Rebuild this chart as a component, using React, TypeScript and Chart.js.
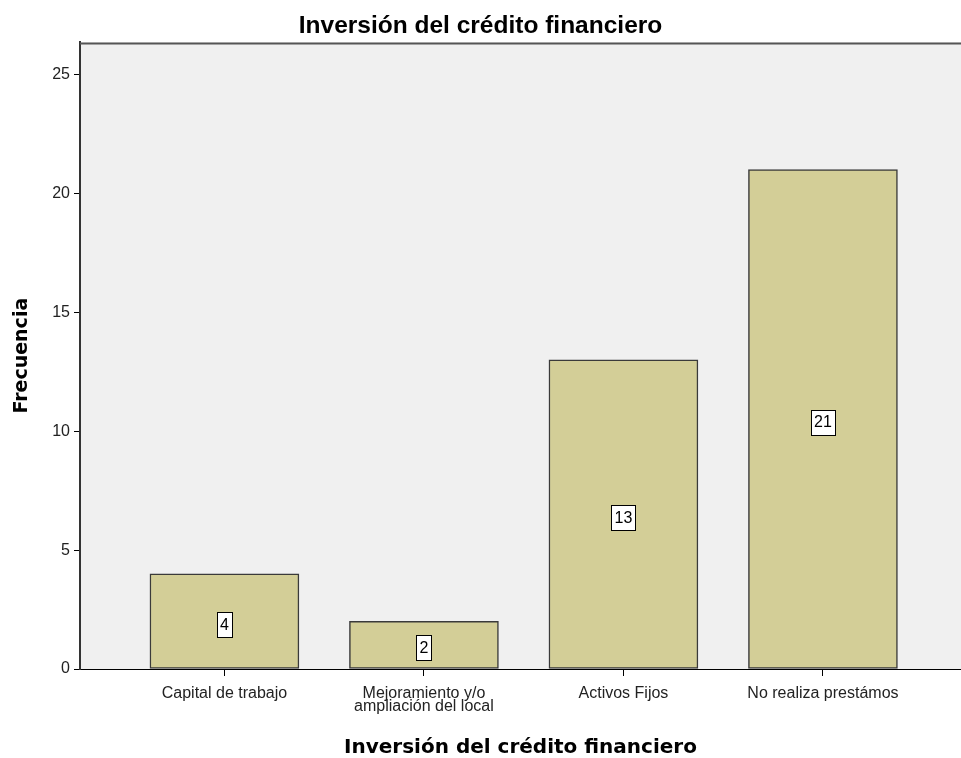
import React, { useEffect, useRef } from "react";
import { Chart, registerables } from "chart.js";

Chart.register(...registerables);

const categories: (string | string[])[] = [
  "Capital de trabajo",
  ["Mejoramiento y/o", "ampliación del local"],
  "Activos Fijos",
  "No realiza prestámos",
];
const frequencies = [4, 2, 13, 21];
const yTicks = [0, 5, 10, 15, 20, 25];
const chartTitle = "Inversión del crédito financiero";
const xTitle = "Inversión del crédito financiero";
const yTitle = "Frecuencia";

const plotBg = {
  id: "plotBg",
  beforeDraw(chart: any) {
    const { ctx, chartArea } = chart;
    ctx.save();
    ctx.fillStyle = "#F0F0F0";
    ctx.fillRect(chartArea.left, chartArea.top, chartArea.right - chartArea.left, chartArea.bottom - chartArea.top);
    ctx.restore();
  },
  afterDraw(chart: any) {
    const { ctx, chartArea } = chart;
    ctx.save();
    ctx.strokeStyle = "#555555";
    ctx.lineWidth = 2;
    ctx.beginPath();
    ctx.moveTo(chartArea.left, chartArea.top + 1);
    ctx.lineTo(chartArea.right, chartArea.top + 1);
    ctx.stroke();
    ctx.restore();
  },
};

const boxLabels = {
  id: "boxLabels",
  afterDatasetsDraw(chart: any) {
    const { ctx } = chart;
    const meta = chart.getDatasetMeta(0);
    ctx.save();
    ctx.font = "16px 'Liberation Sans', Arial, sans-serif";
    ctx.textAlign = "center";
    ctx.textBaseline = "middle";
    meta.data.forEach((bar: any, i: number) => {
      const { x, y, base } = bar.getProps(["x", "y", "base"], true);
      const txt = String(frequencies[i]);
      const cy = (y + base) / 2 + 3;
      const w = Math.round(ctx.measureText(txt).width + 6);
      const h = 25;
      const lx = Math.round(x - w / 2) + 0.5;
      const ty = Math.round(cy - h / 2) + 0.5;
      ctx.fillStyle = "#FFFFFF";
      ctx.fillRect(lx, ty, w, h);
      ctx.strokeStyle = "#000000";
      ctx.lineWidth = 1;
      ctx.strokeRect(lx, ty, w, h);
      ctx.fillStyle = "#000000";
      ctx.fillText(txt, x, cy + 1);
    });
    ctx.restore();
  },
};

export default function App() {
  const ref = useRef<HTMLCanvasElement | null>(null);
  useEffect(() => {
    if (!ref.current) return;
    const chart = new Chart(ref.current, {
      type: "bar",
      data: {
        datasets: [
          {
            data: frequencies.map((v, i) => ({ x: i, y: v })),
            backgroundColor: "#D3CE97",
            borderColor: "#3A3A3A",
            borderWidth: 1.5,
            borderSkipped: false,
            barThickness: 149,
          },
        ],
      },
      options: {
        animation: false,
        responsive: false,
        layout: { padding: 0 },
        plugins: {
          legend: { display: false },
          tooltip: { enabled: false },
          title: {
            display: true,
            text: chartTitle,
            color: "#000000",
            font: { family: "'Liberation Sans', Arial, sans-serif", size: 24.5, weight: "bold", lineHeight: 1.2 },
            padding: { top: 12, bottom: 1 },
          },
        },
        scales: {
          x: {
            type: "linear",
            min: -0.724,
            max: 3.692,
            offset: false,
            afterFit: (s: any) => { s.height = 89; },
            afterBuildTicks: (s: any) => { s.ticks = categories.map((_, i) => ({ value: i })); },
            ticks: {
              autoSkip: false,
              maxRotation: 0,
              padding: 11,
              color: "#222222",
              font: { family: "'Liberation Sans', Arial, sans-serif", size: 16, lineHeight: 0.82 },
              callback: (v: any) => categories[v as number],
            },
            grid: { drawOnChartArea: false, offset: false, tickLength: 7, tickColor: "#000000", tickWidth: 1 },
            border: { display: true, color: "#000000", width: 1 },
            title: {
              display: true,
              text: xTitle,
              color: "#000000",
              font: { family: "'DejaVu Sans', sans-serif", size: 20, weight: "bold", lineHeight: 1.05 },
              padding: { top: 4, bottom: 0 },
            },
          },
          y: {
            min: 0,
            max: 26.35,
            afterFit: (s: any) => { s.width = 80; },
            afterBuildTicks: (s: any) => { s.ticks = yTicks.map((v) => ({ value: v })); },
            ticks: {
              padding: 4,
              color: "#222222",
              font: { family: "'Liberation Sans', Arial, sans-serif", size: 16 },
            },
            grid: { drawOnChartArea: false, tickLength: 6, tickColor: "#000000", tickWidth: 1 },
            border: { display: true, color: "#333333", width: 2 },
            title: {
              display: true,
              text: yTitle,
              color: "#000000",
              font: { family: "'DejaVu Sans', sans-serif", size: 19, weight: "bold", lineHeight: 1.2 },
              padding: { top: 11, bottom: 0 },
            },
          },
        },
      },
      plugins: [plotBg, boxLabels],
    });
    return () => chart.destroy();
  }, []);
  return (
    <div style={{ position: "absolute", left: 0, top: 0, width: 961, height: 758, background: "#FFFFFF" }}>
      <canvas ref={ref} width={961} height={758} style={{ display: "block" }} />
    </div>
  );
}
